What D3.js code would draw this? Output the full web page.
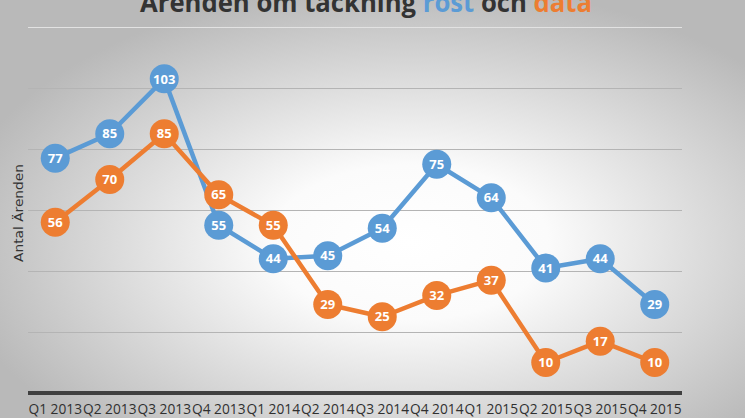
<!DOCTYPE html>
<html lang="sv">
<head>
    <meta charset="UTF-8">
    <title>Ärenden om täckning röst och data</title>
    <script src="https://d3js.org/d3.v7.min.js"></script>
    <style>
        body {
            margin: 0;
            overflow: hidden;
            font-family: 'Open Sans', sans-serif;
        }
        .grid line { stroke: #b4b4b4; stroke-width: 1px; }
        .x-label { font-size: 14px; fill: #303030; }
        .point-label { font-size: 13px; font-weight: bold; fill: #fff; text-anchor: middle; }
    </style>
</head>
<body>
    <div id="chart"></div>
    <script>
        // data
        const categories = ["Q1 2013", "Q2 2013", "Q3 2013", "Q4 2013",
                            "Q1 2014", "Q2 2014", "Q3 2014", "Q4 2014",
                            "Q1 2015", "Q2 2015", "Q3 2015", "Q4 2015"];
        const rostValues = [77, 85, 103, 55, 44, 45, 54, 75, 64, 41, 44, 29];
        const dataValues = [56, 70, 85, 65, 55, 29, 25, 32, 37, 10, 17, 10];
        const yTicks = [20, 40, 60, 80, 100, 120];

        const width = 745, height = 418;
        const plotLeft = 28, plotRight = 682, plotTop = 27, plotBottom = 393;

        const svg = d3.select("#chart").append("svg")
            .attr("width", width)
            .attr("height", height);

        // bakgrund
        const grad = svg.append("defs").append("radialGradient")
            .attr("id", "bg")
            .attr("cx", "55%").attr("cy", "58%").attr("r", "62%");
        grad.append("stop").attr("offset", "0%").attr("stop-color", "#ffffff");
        grad.append("stop").attr("offset", "30%").attr("stop-color", "#fbfbfb");
        grad.append("stop").attr("offset", "100%").attr("stop-color", "#b9b9b9");
        svg.append("rect").attr("width", width).attr("height", height).attr("fill", "url(#bg)");

        const x = d3.scalePoint().domain(categories).range([plotLeft, plotRight]).padding(0.5);
        const y = d3.scaleLinear().domain([0, 120]).range([plotBottom, plotTop]);

        // stödlinjer
        svg.append("g").attr("class", "grid")
            .selectAll("line")
            .data(yTicks)
            .join("line")
            .attr("x1", plotLeft).attr("x2", plotRight)
            .attr("y1", d => y(d) + 0.5).attr("y2", d => y(d) + 0.5)
            .style("stroke", d => d === 120 ? "#e2e2e2" : null);

        // x-axel
        svg.append("line")
            .attr("x1", plotLeft).attr("x2", plotRight)
            .attr("y1", y(0)).attr("y2", y(0))
            .attr("stroke", "#404040").attr("stroke-width", 4);

        svg.append("g")
            .selectAll("text")
            .data(categories)
            .join("text")
            .attr("class", "x-label")
            .attr("x", d => x(d))
            .attr("y", 414)
            .attr("text-anchor", "middle")
            .attr("textLength", x.step() - 1)
            .attr("lengthAdjust", "spacingAndGlyphs")
            .text(d => d);

        // y-axelrubrik
        svg.append("text")
            .attr("transform", `translate(22.5, ${(plotTop + plotBottom) / 2 + 3}) rotate(-90)`)
            .attr("text-anchor", "middle")
            .attr("textLength", 98)
            .attr("lengthAdjust", "spacingAndGlyphs")
            .style("font-family", "'DejaVu Sans', sans-serif")
            .style("font-size", "13px")
            .style("fill", "#333333")
            .text("Antal Ärenden");

        // serier
        const line = d3.line()
            .x((d, i) => x(categories[i]))
            .y(d => y(d));

        function drawSeries(values, color) {
            const g = svg.append("g");
            g.append("path")
                .datum(values)
                .attr("d", line)
                .attr("fill", "none")
                .attr("stroke", color)
                .attr("stroke-width", 4.5)
                .attr("stroke-linejoin", "round");
            g.selectAll("circle")
                .data(values)
                .join("circle")
                .attr("cx", (d, i) => x(categories[i]))
                .attr("cy", d => y(d))
                .attr("r", 14.5)
                .attr("fill", color);
            g.selectAll(".point-label")
                .data(values)
                .join("text")
                .attr("class", "point-label")
                .attr("x", (d, i) => x(categories[i]))
                .attr("y", d => y(d))
                .attr("dy", "0.36em")
                .text(d => d);
        }

        drawSeries(rostValues, "#5b9bd5");
        drawSeries(dataValues, "#ed7d31");

        // titel
        const title = svg.append("text")
            .attr("x", 366)
            .attr("y", 12)
            .attr("text-anchor", "middle")
            .attr("textLength", 452)
            .attr("lengthAdjust", "spacingAndGlyphs")
            .style("font-size", "26px")
            .style("font-weight", "bold")
            .style("fill", "#333333");
        title.append("tspan").text("Ärenden om täckning ");
        title.append("tspan").style("fill", "#5b9bd5").text("röst");
        title.append("tspan").text(" och ");
        title.append("tspan").style("fill", "#ed7d31").text("data");
    </script>
</body>
</html>
